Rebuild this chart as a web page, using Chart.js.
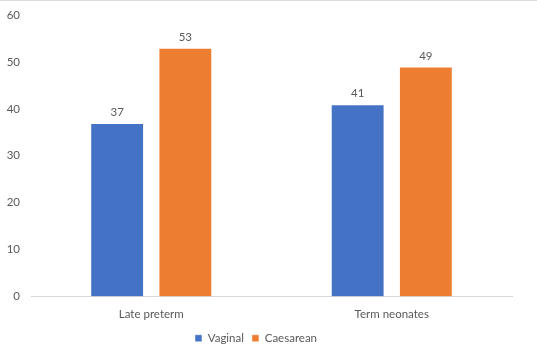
<!DOCTYPE html>
<html>
<head>
<meta charset="utf-8">
<script src="https://cdn.jsdelivr.net/npm/chart.js@4"></script>
<style>
html,body{margin:0;padding:0;background:#fff;}
#wrap{position:relative;width:537px;height:355px;box-sizing:border-box;border-top:1px solid #dcdcdc;}
canvas{display:block;}
</style>
</head>
<body>
<div id="wrap"><canvas id="c" width="537" height="354"></canvas></div>
<script>
const categories = ["Late preterm", "Term neonates"];
const vaginal = [37, 41];
const caesarean = [53, 49];
const yTicks = [0, 10, 20, 30, 40, 50, 60];

const FONT = "Lato, 'Liberation Sans', sans-serif";
const FSIZE = 11.5;
const TXT = "#595959";

const labelPlugin = {
  id: "valueLabels",
  afterDatasetsDraw(chart) {
    const ctx = chart.ctx;
    ctx.save();
    ctx.font = FSIZE + "px " + FONT;
    ctx.fillStyle = TXT;
    ctx.textAlign = "center";
    ctx.textBaseline = "bottom";
    chart.data.datasets.forEach((ds, i) => {
      const meta = chart.getDatasetMeta(i);
      meta.data.forEach((el, j) => {
        ctx.fillText(String(ds.data[j]), el.x, el.y - 5);
      });
    });
    ctx.restore();
  }
};

new Chart(document.getElementById("c"), {
  type: "bar",
  data: {
    labels: categories,
    datasets: [
      { label: "Vaginal", data: vaginal, backgroundColor: "#4472C4", borderColor: "rgba(255,255,255,0.5)", borderWidth: 1, barPercentage: 0.79, categoryPercentage: 0.567 },
      { label: "Caesarean", data: caesarean, backgroundColor: "#ED7D31", borderColor: "rgba(255,255,255,0.5)", borderWidth: 1, barPercentage: 0.79, categoryPercentage: 0.567 }
    ]
  },
  options: {
    responsive: false,
    animation: false,
    layout: { padding: { top: 14, right: 25, left: 0, bottom: 1 } },
    plugins: {
      legend: {
        position: "bottom",
        labels: { boxWidth: 7, boxHeight: 7, color: TXT, font: { size: FSIZE, family: FONT }, padding: 8 }
      },
      tooltip: { enabled: false }
    },
    scales: {
      x: {
        afterFit(scale) { scale.height = 28; },
        grid: { display: false, drawTicks: false, tickLength: 0 },
        border: { color: "#d9d9d9", width: 1 },
        ticks: { color: TXT, font: { size: FSIZE, family: FONT }, padding: 11 }
      },
      y: {
        min: 0, max: 60,
        afterBuildTicks(scale) { scale.ticks = yTicks.map(v => ({ value: v })); },
        afterFit(scale) { scale.width = 31; scale.paddingTop = 0; scale.paddingBottom = 0; },
        grid: { display: false, drawTicks: false, tickLength: 0 },
        border: { display: false },
        ticks: { color: TXT, font: { size: FSIZE, family: FONT }, padding: 11 }
      }
    }
  },
  plugins: [labelPlugin]
});
</script>
</body>
</html>
